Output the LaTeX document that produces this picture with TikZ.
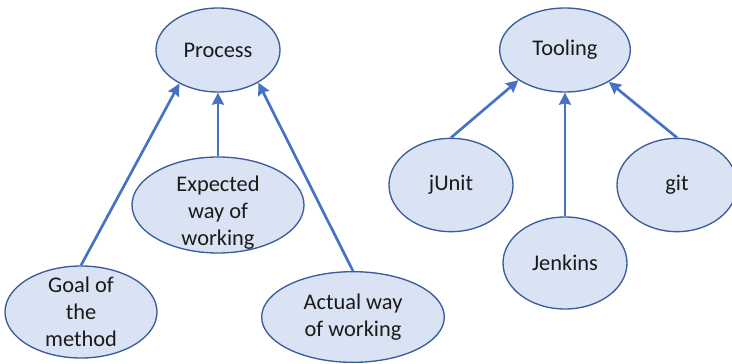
\documentclass[tikz,border=0pt]{standalone}
\usepackage{fontspec}
\setmainfont{Carlito}
\usepackage{tikz}
\usetikzlibrary{shapes.geometric, arrows.meta}
\usepackage{xcolor}
\definecolor{bubblefill}{HTML}{DAE3F3}
\definecolor{bubbleline}{HTML}{3A5C9C}
\definecolor{arrowblue}{HTML}{4472C4}
\definecolor{textgray}{HTML}{1A1A1A}
\tikzset{
	bubble/.style={ellipse, draw=bubbleline, fill=bubblefill, line width=1pt,
		inner xsep=0pt, inner ysep=-14pt, align=center, text=textgray,
		font=\fontsize{16.8}{20.3}\selectfont},
	myarrow/.style={-{Stealth[length=9pt, width=9pt, inset=1pt]},
		line width=2pt, draw=arrowblue}
}

\begin{document}
\begin{tikzpicture}[x=0.75pt, y=-0.75pt]
	\useasboundingbox (0,0) rectangle (732,364);

	% left tree
	\node[bubble, minimum width=93pt, minimum height=63pt] (process) at (218,50)
	{Process};
	\node[bubble, minimum width=129pt, minimum height=72pt] (expected) at (218,205)
	{\parbox{75pt}{\centering\vspace{11pt}Expected\\way of\\working}};
	\node[bubble, minimum width=114pt, minimum height=69pt] (goal) at (81,312)
	{Goal of\\the\\method};
	\node[bubble, minimum width=137pt, minimum height=68pt] (actual) at (353,317)
	{Actual way\\of working};

	% right tree
	\node[bubble, minimum width=98pt, minimum height=63pt] (tooling) at (565,50)
	{Tooling};
	\node[bubble, minimum width=93pt, minimum height=70pt] (junit) at (451,185)
	{jUnit};
	\node[bubble, minimum width=93pt, minimum height=69pt] (jenkins) at (565,263)
	{Jenkins};
	\node[bubble, minimum width=90pt, minimum height=70pt] (git) at (677,185)
	{git};

	\draw[myarrow] (goal.north) -- (process.221);
	\draw[myarrow] (expected.north) -- (process.south);
	\draw[myarrow] (actual.north) -- (process.321);
	\draw[myarrow] (junit.north) -- (tooling.213);
	\draw[myarrow] (jenkins.north) -- (tooling.south);
	\draw[myarrow] (git.north) -- (tooling.324);
\end{tikzpicture}
\end{document}
